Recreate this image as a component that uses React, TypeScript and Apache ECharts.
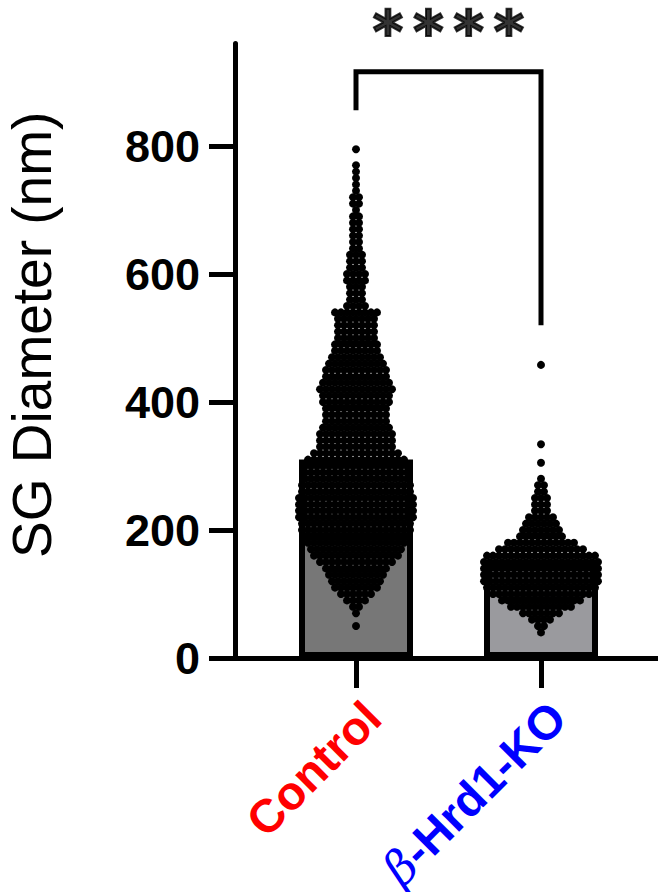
import React, { useEffect, useRef } from "react";
import * as echarts from "echarts";

// ---- data ----
const categories = ["Control", "β-Hrd1-KO"];
const barMeans = [310, 148];
const yTicks = [0, 200, 400, 600, 800];
const yMax = 960;

// beeswarm rows: diameter value (nm) and number of dots visible side by side in that row
const controlRowValues = [50, 70, 80, 90, 100, 110, 120, 130, 140, 150, 160, 170, 180, 190, 200, 210, 220, 230, 240, 250, 260, 270, 280, 290, 300, 310, 320, 330, 340, 350, 360, 370, 380, 390, 400, 410, 420, 430, 440, 450, 460, 470, 480, 490, 500, 510, 520, 530, 540, 550, 560, 570, 580, 590, 600, 610, 620, 630, 640, 650, 660, 670, 680, 690, 700, 710, 720, 730, 740, 750, 760, 770, 795];
const controlRowCounts = [1, 1, 2, 4, 6, 8, 9, 10, 11, 13, 15, 16, 17, 18, 19, 19, 20, 20, 20, 20, 19, 19, 18, 18, 18, 17, 15, 13, 13, 13, 12, 11, 11, 11, 12, 12, 13, 12, 11, 11, 10, 9, 8, 8, 7, 7, 7, 7, 8, 4, 3, 3, 3, 4, 4, 3, 3, 3, 2, 2, 2, 2, 2, 2, 1, 2, 2, 1, 1, 1, 1, 1, 1];
const koRowValues = [40, 50, 60, 70, 80, 90, 100, 110, 120, 130, 140, 150, 160, 170, 180, 190, 200, 210, 220, 230, 240, 250, 260, 270, 280, 305, 334, 458];
const koRowCounts = [1, 2, 4, 7, 11, 14, 17, 19, 20, 20, 20, 20, 19, 15, 12, 8, 7, 6, 5, 3, 3, 3, 2, 2, 1, 1, 1, 1];

// significance bracket: [left leg bottom, bracket top, right leg bottom]
const bracketLevels = [856, 916, 520];
const significance = "****";

const barColors = ["#777777", "#9a9a9e"];
const labelColors = ["#ff0000", "#0000ff"];

const GRID_TOP = 43.6;
const GRID_HEIGHT = 614.4;
const BAND_PX = 185;
const DOT_STEP_PX = 6;

function swarm(center: number, values: number[], counts: number[]) {
  const pts: number[][] = [];
  values.forEach((v, i) => {
    const n = counts[i];
    for (let k = 0; k < n; k++) {
      const dx = ((k - (n - 1) / 2) * DOT_STEP_PX) / BAND_PX;
      pts.push([center + dx, v]);
    }
  });
  return pts;
}

export default function App() {
  const ref = useRef<HTMLDivElement>(null);
  useEffect(() => {
    if (!ref.current) return;
    const chart = echarts.init(ref.current, undefined, { renderer: "svg" });
    const font = 'Arial, "Liberation Sans", Helvetica, sans-serif';
    const points = [...swarm(0, controlRowValues, controlRowCounts), ...swarm(1, koRowValues, koRowCounts)];
    chart.setOption({
      animation: false,
      backgroundColor: "#ffffff",
      grid: [
        { left: 235, top: GRID_TOP, right: 0, height: GRID_HEIGHT, outerBoundsMode: "none", containLabel: false },
        { left: 263.5, top: GRID_TOP, width: BAND_PX * 2, height: GRID_HEIGHT, outerBoundsMode: "none", containLabel: false },
      ],
      xAxis: [
        {
          gridIndex: 0, type: "value", min: 0, max: 1,
          axisLine: { show: true, lineStyle: { color: "#000", width: 5 } },
          axisTick: { show: false }, axisLabel: { show: false }, splitLine: { show: false },
        },
        {
          gridIndex: 1, type: "category", data: categories,
          axisLine: { show: false },
          axisTick: { show: true, alignWithLabel: true, length: 30, lineStyle: { color: "#000", width: 5 } },
          axisLabel: {
            interval: 0, rotate: 45, margin: 35, verticalAlign: "top",
            fontFamily: font, fontWeight: "bold", fontSize: 47,
            formatter: (v: string) => (v.startsWith("β") ? `{g|β}{k|${v.slice(1)}}` : `{c|${v}}`),
            rich: {
              c: { color: labelColors[0], fontSize: 47, fontWeight: "bold", fontFamily: font },
              g: { color: labelColors[1], fontSize: 47, fontWeight: "normal", fontStyle: "italic", fontFamily: '"DejaVu Serif", serif' },
              k: { color: labelColors[1], fontSize: 47, fontWeight: "bold", fontFamily: font },
            },
          },
        },
        { gridIndex: 1, type: "value", min: -0.5, max: 1.5, show: false },
      ],
      yAxis: [
        {
          gridIndex: 0, type: "value", min: 0, max: yMax,
          name: "SG Diameter (nm)", nameLocation: "middle", nameGap: 176,
          nameTextStyle: { fontFamily: font, fontSize: 55, color: "#000", padding: [0, 0, 0, 32] },
          axisLine: { show: true, lineStyle: { color: "#000", width: 5 } },
          axisTick: { show: true, length: 26, customValues: yTicks, lineStyle: { color: "#000", width: 5 } },
          axisLabel: { customValues: yTicks, margin: 35, fontFamily: font, fontWeight: "bold", fontSize: 45, color: "#000" },
          splitLine: { show: false },
        },
        { gridIndex: 1, type: "value", min: 0, max: yMax, show: false },
      ],
      series: [
        {
          type: "bar", xAxisIndex: 1, yAxisIndex: 1, barWidth: 114,
          data: barMeans.map((v, i) => ({ value: v, itemStyle: { color: barColors[i] } })),
          itemStyle: { borderColor: "#000", borderWidth: 6 },
          z: 2,
        },
        {
          type: "scatter", xAxisIndex: 2, yAxisIndex: 1, data: points,
          symbolSize: 8, itemStyle: { color: "#000", opacity: 1 }, z: 3,
        },
        {
          type: "line", xAxisIndex: 2, yAxisIndex: 1, symbol: "none",
          data: [[0, bracketLevels[0]], [0, bracketLevels[1]], [1, bracketLevels[1]], [1, bracketLevels[2]]],
          lineStyle: { color: "#000", width: 5, join: "miter" }, z: 4,
        },
        {
          type: "scatter", xAxisIndex: 2, yAxisIndex: 1, symbolSize: 0,
          data: [[0.5, bracketLevels[1]]],
          label: {
            show: true, position: "top", distance: 18,
            color: "#000", fontWeight: "bold",
            formatter: significance.split("").map(() => "{s|*}").join(""),
            rich: {
              s: {
                fontFamily: '"DejaVu Sans", sans-serif', fontWeight: "bold", fontSize: 58, lineHeight: 44, color: "#000",
                textBorderColor: "#000", textBorderWidth: 2, padding: [0, 5, 0, 5],
              },
            },
          },
          z: 4,
        },
      ],
    });
    return () => chart.dispose();
  }, []);
  return <div ref={ref} style={{ position: "absolute", left: 0, top: 0, width: 658, height: 892 }} />;
}
